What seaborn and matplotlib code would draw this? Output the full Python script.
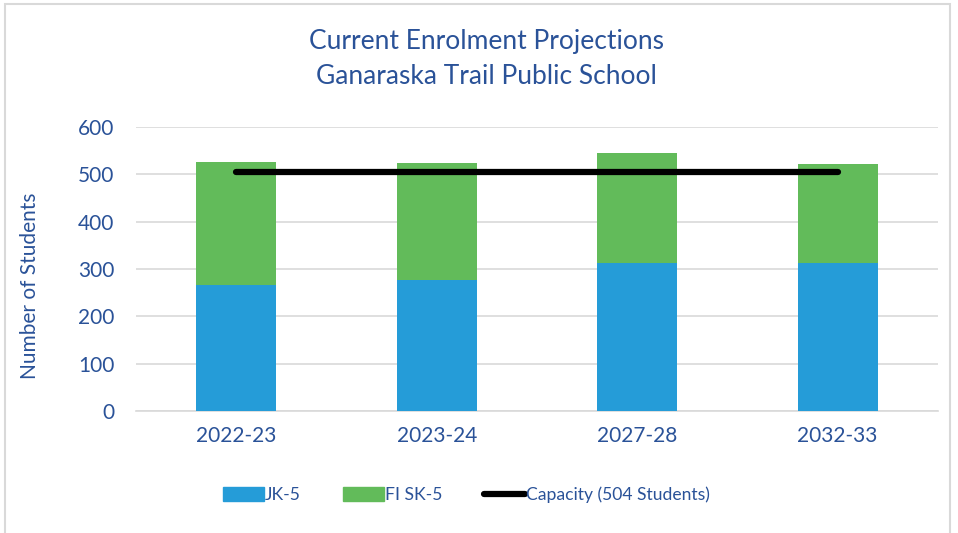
import matplotlib
matplotlib.use("Agg")
import matplotlib.pyplot as plt
import matplotlib.patches as mpatches
from matplotlib.lines import Line2D
import seaborn as sns
import pandas as pd

years = ["2022-23", "2023-24", "2027-28", "2032-33"]
jk5 = [265, 276, 313, 313]
fi_sk5 = [261, 248, 232, 208]
capacity = [504, 504, 504, 504]

BLUE = "#259CD8"
GREEN = "#62BB5A"
TEXT = "#2A5298"

sns.set_theme(style="white")
plt.rcParams['font.family'] = ['Lato', 'DejaVu Sans']

totals = [a + b for a, b in zip(jk5, fi_sk5)]
df = pd.DataFrame({"year": years, "jk": jk5, "total": totals, "cap": capacity})

fig = plt.figure(figsize=(9.58, 5.33), dpi=100)
ax = fig.add_axes([0.142, 0.229, 0.837, 0.533])

sns.barplot(data=df, x="year", y="total", color=GREEN, width=0.4, ax=ax,
            saturation=1, zorder=2, linewidth=0)
sns.barplot(data=df, x="year", y="jk", color=BLUE, width=0.4, ax=ax,
            saturation=1, zorder=3, linewidth=0)
ax.plot(range(len(years)), df["cap"], color="black", lw=4.5,
        solid_capstyle="round", zorder=4)

ax.set_ylim(0, 600)
ax.set_xlim(-0.5, 3.5)
ax.set_yticks(range(0, 601, 100))
ax.yaxis.grid(True, color="#D9D9D9", lw=1.2, zorder=0)
ax.set_axisbelow(True)
for s in ["top", "right", "left"]:
    ax.spines[s].set_visible(False)
ax.spines["bottom"].set_color("#D9D9D9")
ax.spines["bottom"].set_linewidth(1.2)
ax.tick_params(axis="both", length=0, labelsize=15, colors=TEXT)
ax.tick_params(axis="y", pad=15.5)
ax.tick_params(axis="x", pad=11)
ax.set_xlabel("")
ax.set_ylabel("Number of Students", fontsize=15, color=TEXT)
ax.yaxis.set_label_coords(-0.12, 0.44)

fig.text(0.508, 0.923, "Current Enrolment Projections", ha="center", va="center",
         fontsize=19, color=TEXT)
fig.text(0.508, 0.857, "Ganaraska Trail Public School", ha="center", va="center",
         fontsize=19, color=TEXT)

handles = [mpatches.Patch(color=BLUE, label="JK-5"),
           mpatches.Patch(color=GREEN, label="FI SK-5"),
           Line2D([0], [0], color="black", lw=4.5, solid_capstyle="round",
                  label="Capacity (504 Students)")]
leg = fig.legend(handles=handles, loc="center", bbox_to_anchor=(0.487, 0.071),
                 ncol=3, frameon=False, fontsize=12.6, handlelength=2.35,
                 handleheight=0.85, columnspacing=2.4, handletextpad=0.05)
for t in leg.get_texts():
    t.set_color(TEXT)

fig.patches.append(mpatches.Rectangle((0.005, -0.01), 0.987, 1.003,
                                      transform=fig.transFigure, fill=False,
                                      edgecolor="#D9D9D9", lw=1.5))

fig.savefig("out.png", dpi=100)
